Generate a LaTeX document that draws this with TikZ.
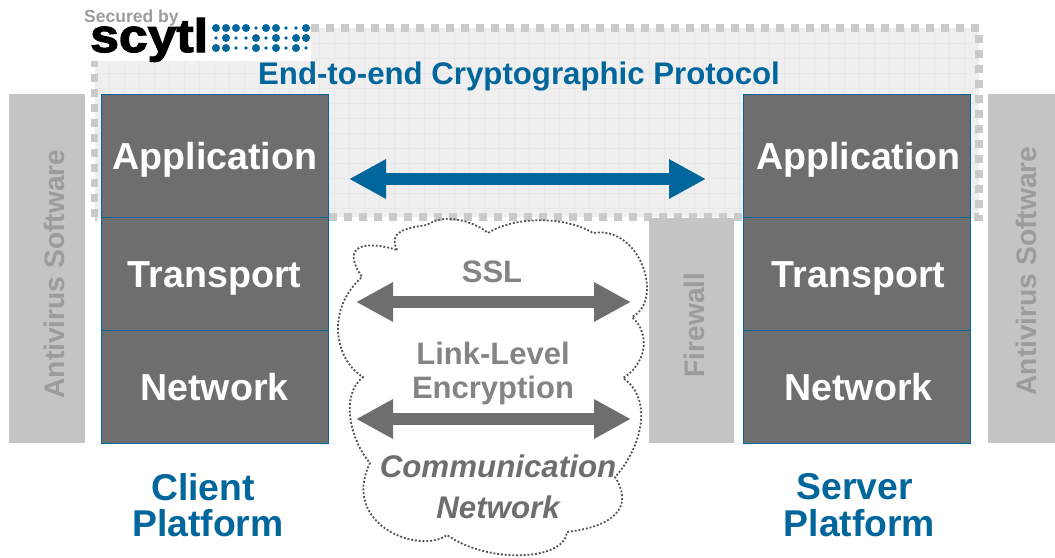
\documentclass[tikz,border=0pt]{standalone}
\usepackage{fontspec}
\setmainfont{Liberation Sans}
\newfontfamily\logofont[FakeBold=2.5]{Liberation Sans Bold}
\usetikzlibrary{arrows.meta}
\definecolor{bluetext}{HTML}{00669C}
\definecolor{darkbox}{HTML}{6E6E6E}
\definecolor{lightbox}{HTML}{C4C4C4}
\definecolor{sidetext}{HTML}{9C9C9C}
\definecolor{boxfill}{HTML}{EFEFEF}
\definecolor{boxgrid}{HTML}{E7E7E7}
\tikzset{
  layerbox/.style={draw=bluetext,line width=1pt,fill=darkbox,text=white,minimum width=227,inner sep=0,outer sep=0,
    font=\fontsize{37.6}{38}\selectfont\bfseries,text height=26,text depth=0},
  sidebox/.style={fill=lightbox,inner sep=0,outer sep=0},
  sidelabel/.style={rotate=90,text=sidetext,inner sep=0,font=\fontsize{28.2}{28}\selectfont\bfseries},
  platformlabel/.style={align=center,text=bluetext,inner sep=0,font=\fontsize{37.3}{36.5}\selectfont\bfseries},
  linklabel/.style={align=center,text=darkbox!85!white,inner sep=0,font=\fontsize{31}{34}\selectfont\bfseries},
  bigarrow/.style={line width=12pt,{Triangle[length=37pt,width=37pt]}-{Triangle[length=37pt,width=37pt]}}
}
\begin{document}
\begin{tikzpicture}[x=1pt,y=-1pt]
  \useasboundingbox (0,0) rectangle (1055,557);

  % protected area
  \fill[boxfill] (94.5,28) rectangle (979,217);
  \foreach \xgrid in {109,124,...,964}
    \draw[boxgrid,line width=0.8pt] (\xgrid,28) -- (\xgrid,217);
  \foreach \ygrid in {43,58,...,208}
    \draw[boxgrid,line width=0.8pt] (94.5,\ygrid) -- (979,\ygrid);
  \draw[lightbox!90!white,line width=7.5pt,dash pattern=on 8pt off 7pt] (94.5,217) -- (94.5,28) -- (979,28) -- (979,217) -- cycle;

  % logo
  \fill[white] (84,0) rectangle (311,61);
  \node[inner sep=0,anchor=base west,text=sidetext,font=\fontsize{17.5}{18}\selectfont\bfseries] (secured) at (84,22) {Secured by};
  \node[inner sep=0,anchor=base west,xscale=1.1,transform shape,font=\fontsize{47}{47}\logofont] (scytl) at (90,52) {scytl};
  \foreach \xdot/\ydot/\rdot in {
    216/28/4,226/28/4,236/28/4,246/28/4,256/28/1.8,266/28/4,276/28/4,286/28/1.8,296/28/1.8,306/28/4,
    216/38/1.8,226/38/4,236/38/1.8,246/38/1.8,256/38/4,266/38/1.8,276/38/4,286/38/1.8,296/38/4,306/38/4,
    216/48/4,226/48/4,236/48/1.8,246/48/1.8,256/48/4,266/48/1.8,276/48/4,286/48/1.8,296/48/4,306/48/1.8}
    \fill[bluetext] (\xdot,\ydot) circle (\rdot);

  \node[text=bluetext,inner sep=0,anchor=base,font=\fontsize{31.2}{32}\selectfont\bfseries] (title) at (519,84) {End-to-end Cryptographic Protocol};

  % side boxes
  \node[sidebox,minimum width=76,minimum height=349] (avleft) at (47,268.5) {};
  \node[sidebox,minimum width=67,minimum height=349] (avright) at (1021.5,268.5) {};
  \node[sidebox,minimum width=85,minimum height=225] (firewall) at (691.5,330.5) {};
  \node[sidelabel] (avlefttext) at (54,274) {Antivirus Software};
  \node[sidelabel] (avrighttext) at (1026,271) {Antivirus Software};
  \node[sidelabel] (firewalltext) at (694,325) {Firewall};

  % client stack
  \node[layerbox,minimum height=123] (capp) at (214.5,156) {\hspace*{1pt}Application};
  \node[layerbox,minimum height=113] (ctrans) at (214.5,274) {Transport};
  \node[layerbox,minimum height=113] (cnet) at (214.5,387) {Network};

  % server stack
  \node[layerbox,minimum height=123] (sapp) at (857,156) {\hspace*{3pt}Application};
  \node[layerbox,minimum height=113] (strans) at (857,274) {\hspace*{3pt}Transport};
  \node[layerbox,minimum height=113] (snet) at (857,387) {\hspace*{3pt}Network};

  \node[platformlabel] (client) at (208,505) {Client\hspace*{10pt}\\Platform};
  \node[platformlabel] (server) at (859.5,505) {Server\hspace*{10pt}\\Platform};

  % cloud
  \draw[black!68,line width=1.8pt,dash pattern=on 1.9pt off 1.9pt]
    (397,250) .. controls (388,232) and (405,228) .. (427,225)
    .. controls (445,212) and (475,222) .. (488,233)
    .. controls (515,216) and (565,216) .. (593,233)
    .. controls (640,225) and (665,300) .. (632,317)
    .. controls (652,335) and (645,365) .. (623,378)
    .. controls (655,400) and (640,450) .. (615,477)
    .. controls (630,500) and (625,525) .. (567,532)
    .. controls (565,560) and (490,565) .. (447,535)
    .. controls (420,555) and (340,525) .. (370,463)
    .. controls (350,440) and (340,395) .. (363,377)
    .. controls (335,360) and (325,310) .. (362,277)
    .. controls (340,245) and (365,240) .. (397,250) -- cycle;

  \node[linklabel] (ssl) at (492,272) {SSL};
  \node[linklabel] (linklevel) at (493,373) {Link-Level\\Encryption};
  \node[linklabel,text=darkbox,font=\fontsize{31.3}{41}\selectfont\bfseries\itshape] (comm) at (498,486.5) {Communication\\Network};

  % arrows
  \coordinate (e2eleft) at (349,179);
  \coordinate (e2eright) at (706,179);
  \coordinate (sslleft) at (356,302);
  \coordinate (sslright) at (631,302);
  \coordinate (linkleft) at (356,419);
  \coordinate (linkright) at (631,419);
  \draw[bigarrow,bluetext] (e2eleft) -- (e2eright);
  \draw[bigarrow,darkbox] (sslleft) -- (sslright);
  \draw[bigarrow,darkbox] (linkleft) -- (linkright);
\end{tikzpicture}
\end{document}
